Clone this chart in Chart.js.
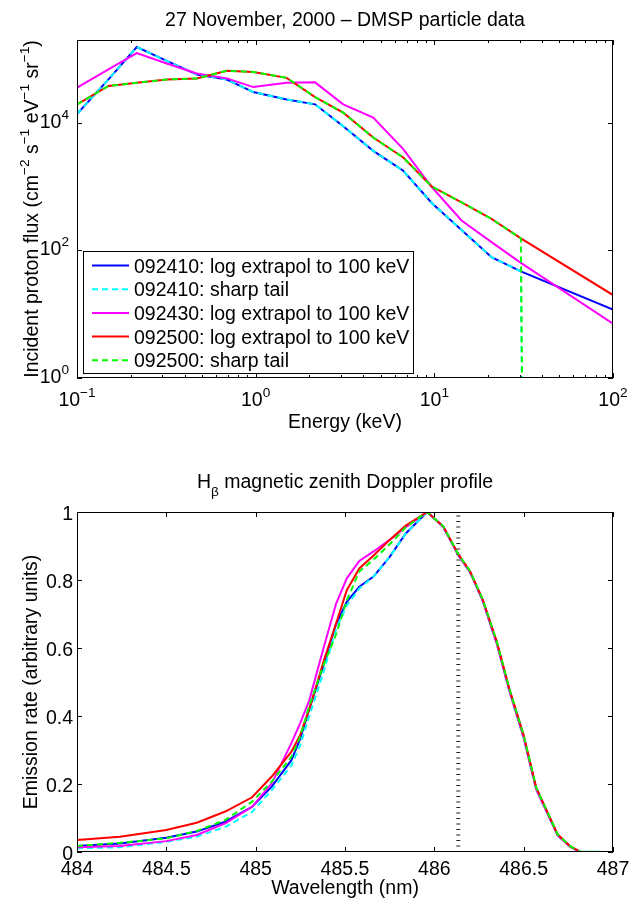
<!DOCTYPE html>
<html>
<head>
<meta charset="utf-8">
<title>DMSP particle data and H-beta Doppler profile</title>
<script src="https://cdn.jsdelivr.net/npm/chart.js@4.4.1/dist/chart.umd.min.js"></script>
<style>
  html, body { margin: 0; padding: 0; background: #fff; }
  canvas { display: block; }
</style>
</head>
<body>
<canvas id="fluxChart" width="641" height="440"></canvas>
<canvas id="dopplerChart" width="641" height="459"></canvas>
<script>
// ---- top panel: proton spectra (keV, cm-2 s-1 eV-1 sr-1) ----
const energyKeV  = [0.1, 0.15, 0.216, 0.318, 0.468, 0.69, 0.97, 1.49, 2.15, 3.09, 4.55, 6.7, 9.7, 14.2, 20.9, 30.5, 100];
const flux092410 = [13800, 48300, 155000, 94000, 57500, 48000, 30500, 23400, 19600, 8900, 3650, 1780, 550, 210, 78.6, 47, 11.8];
const flux092430 = [35700, 69000, 125000, 85500, 59500, 50000, 36500, 42600, 43300, 19600, 12100, 3880, 980, 295, 135, 64, 7.1];
const flux092500 = [19600, 38000, 42600, 48000, 50000, 66000, 63000, 51000, 25500, 14500, 5900, 2870, 1000, 570, 313, 155, 20];

// sharp tail: spectrum cut off right after the last channel
const tailEnergyKeV = [0.1, 0.15, 0.216, 0.318, 0.468, 0.69, 0.97, 1.49, 2.15, 3.09, 4.55, 6.7, 9.7, 14.2, 20.9, 30.5, 31.6];
const tail092410    = [13800, 48300, 155000, 94000, 57500, 48000, 30500, 23400, 19600, 8900, 3650, 1780, 550, 210, 78.6, 47, 0.001];
const tail092500    = [19600, 38000, 42600, 48000, 50000, 66000, 63000, 51000, 25500, 14500, 5900, 2870, 1000, 570, 313, 155, 0.001];

const seriesNames = [
  '092410: log extrapol to 100 keV',
  '092410: sharp tail',
  '092430: log extrapol to 100 keV',
  '092500: log extrapol to 100 keV',
  '092500: sharp tail'
];
const energyDecades = [0.1, 1, 10, 100];
const fluxTicks = [1, 100, 10000];

// ---- bottom panel: H-beta Doppler profile ----
const wavelengthNm = [484.0, 484.24, 484.5, 484.67, 484.83, 484.98, 485.09, 485.2, 485.25, 485.3,
                      485.38, 485.45, 485.51, 485.58, 485.66, 485.75, 485.84, 485.96, 486.05, 486.134,
                      486.2, 486.27, 486.35, 486.42, 486.5, 486.57, 486.69, 486.76, 486.815, 487.0];
const rate092410      = [0.018, 0.025, 0.042, 0.06, 0.089, 0.133, 0.192, 0.27, 0.334, 0.42,
                         0.55, 0.67, 0.736, 0.78, 0.81, 0.868, 0.937, 1.0, 0.957, 0.874,
                         0.824, 0.741, 0.614, 0.476, 0.339, 0.187, 0.05, 0.016, 0.001, 0];
const rateSharp092410 = [0.011, 0.014, 0.03, 0.045, 0.074, 0.118, 0.182, 0.255, 0.315, 0.40,
                         0.53, 0.655, 0.725, 0.775, 0.81, 0.868, 0.937, 1.0, 0.955, 0.872,
                         0.822, 0.739, 0.611, 0.472, 0.334, 0.183, 0.048, 0.015, 0.001, 0];
const rate092430      = [0.014, 0.018, 0.032, 0.05, 0.084, 0.133, 0.202, 0.32, 0.38, 0.446,
                         0.6, 0.73, 0.805, 0.856, 0.884, 0.918, 0.955, 1.0, 0.956, 0.873,
                         0.823, 0.740, 0.612, 0.474, 0.337, 0.185, 0.049, 0.016, 0.001, 0];
const rate092500      = [0.035, 0.045, 0.065, 0.086, 0.119, 0.161, 0.222, 0.295, 0.345, 0.42,
                         0.56, 0.672, 0.77, 0.834, 0.872, 0.918, 0.96, 1.0, 0.958, 0.876,
                         0.826, 0.744, 0.618, 0.480, 0.343, 0.190, 0.052, 0.017, 0.001, 0];
const rateSharp092500 = [0.018, 0.027, 0.04, 0.062, 0.094, 0.148, 0.207, 0.28, 0.34, 0.43,
                         0.55, 0.64, 0.74, 0.825, 0.86, 0.905, 0.955, 1.0, 0.958, 0.876,
                         0.826, 0.744, 0.618, 0.480, 0.343, 0.190, 0.052, 0.017, 0.001, 0];
const restWavelengthNm = 486.134;   // dotted marker
const wavelengthTicks = [484, 484.5, 485, 485.5, 486, 486.5, 487];
const rateTicks = [0, 0.2, 0.4, 0.6, 0.8, 1];

// ---- drawing helpers ----
const FONT = '"Liberation Sans", Arial, Helvetica, sans-serif';
const SIZE = 19.5;

function font(size) {
  return size + 'px ' + FONT;
}

// parts: [text, kind] with kind 0 normal, 1 superscript, -1 subscript
function richWidth(ctx, parts, size) {
  let w = 0;
  for (const [text, kind] of parts) {
    ctx.font = font(kind ? size * 0.7 : size);
    w += ctx.measureText(text).width;
  }
  return w;
}

function drawRich(ctx, parts, x, y, size, align) {
  const w = richWidth(ctx, parts, size);
  let cx = align === 'center' ? x - w / 2 : align === 'right' ? x - w : x;
  ctx.textAlign = 'left';
  ctx.textBaseline = 'alphabetic';
  for (const [text, kind] of parts) {
    ctx.font = font(kind ? size * 0.7 : size);
    const dy = kind === 1 ? -size * 0.48 : kind === -1 ? size * 0.4 : 0;
    ctx.fillText(text, cx, y + dy);
    cx += ctx.measureText(text).width;
  }
}

function logTicks(decades) {
  const ticks = [];
  for (let i = 0; i < decades.length - 1; i++) {
    for (let m = 1; m < 10; m++) ticks.push({ value: decades[i] * m, major: m === 1 });
  }
  ticks.push({ value: decades[decades.length - 1], major: true });
  return ticks;
}

function powerLabel(v) {
  const e = Math.round(Math.log10(v));
  return [['10', 0], [String(e).replace('-', '\u2212'), 1]];
}

function plainLabel(v) {
  return [[String(+v.toFixed(2)), 0]];
}

function lineSet(xs, ys, color, dashed, order) {
  return {
    data: xs.map((x, i) => ({ x: x, y: ys[i] })),
    borderColor: color,
    backgroundColor: color,
    borderWidth: 2,
    borderDash: dashed ? [6, 4] : [],
    pointRadius: 0,
    tension: 0,
    fill: false,
    order: order
  };
}

function drawLegend(chart) {
  const ctx = chart.ctx;
  const box = { x: 83.5, y: 251.5, w: 330, h: 122 };
  ctx.fillStyle = '#fff';
  ctx.fillRect(box.x, box.y, box.w, box.h);
  ctx.strokeStyle = '#000';
  ctx.lineWidth = 1;
  ctx.setLineDash([]);
  ctx.strokeRect(box.x, box.y, box.w, box.h);
  chart.data.datasets.forEach((ds, i) => {
    const y = 265.5 + i * 23.7;
    ctx.strokeStyle = ds.borderColor;
    ctx.lineWidth = 2;
    ctx.setLineDash(ds.borderDash);
    ctx.beginPath();
    ctx.moveTo(92, y);
    ctx.lineTo(129, y);
    ctx.stroke();
    ctx.setLineDash([]);
    ctx.fillStyle = '#000';
    drawRich(ctx, [[seriesNames[i], 0]], 134, y + 7, SIZE, 'left');
  });
}

// frame, inward ticks, tick labels, titles (MATLAB-like axes)
const decorPlugin = {
  id: 'decor',
  afterDraw(chart, args, o) {
    const ctx = chart.ctx;
    const a = chart.chartArea;
    const xs = chart.scales.x;
    const ys = chart.scales.y;
    ctx.save();
    ctx.setLineDash([]);
    ctx.strokeStyle = '#000';
    ctx.fillStyle = '#000';
    ctx.lineWidth = 1;

    ctx.beginPath();
    xs.ticks.forEach(t => {
      const p = Math.round(xs.getPixelForValue(t.value)) + 0.5;
      const len = t.major ? 5 : 3;
      ctx.moveTo(p, a.bottom); ctx.lineTo(p, a.bottom - len);
      ctx.moveTo(p, a.top); ctx.lineTo(p, a.top + len);
    });
    ys.ticks.forEach(t => {
      const p = Math.round(ys.getPixelForValue(t.value)) + 0.5;
      ctx.moveTo(a.left, p); ctx.lineTo(a.left + 5, p);
      ctx.moveTo(a.right, p); ctx.lineTo(a.right - 5, p);
    });
    ctx.stroke();
    ctx.strokeRect(a.left + 0.5, a.top + 0.5, a.right - a.left - 1, a.bottom - a.top - 1);

    xs.ticks.forEach(t => {
      if (!t.major) return;
      drawRich(ctx, o.tickLabel(t.value), xs.getPixelForValue(t.value), o.xTickY, SIZE, 'center');
    });
    ys.ticks.forEach(t => {
      drawRich(ctx, o.tickLabel(t.value), o.yTickX, ys.getPixelForValue(t.value) + o.yTickDy, SIZE, 'right');
    });

    const cx = (a.left + a.right) / 2;
    drawRich(ctx, o.title, cx, o.titleY, SIZE, 'center');
    drawRich(ctx, o.xTitle, cx, o.xTitleY, SIZE, 'center');
    ctx.save();
    ctx.translate(o.yTitleX, (a.top + a.bottom) / 2);
    ctx.rotate(-Math.PI / 2);
    drawRich(ctx, o.yTitle, 0, 0, SIZE, 'center');
    ctx.restore();

    if (o.legend) drawLegend(chart);
    ctx.restore();
  }
};

const baseOptions = {
  responsive: false,
  animation: false,
  events: []
};

// ---- top chart ----
new Chart(document.getElementById('fluxChart'), {
  type: 'line',
  data: {
    datasets: [
      lineSet(energyKeV, flux092410, '#0000ff', false, 5),
      lineSet(tailEnergyKeV, tail092410, '#00ffff', true, 4),
      lineSet(energyKeV, flux092430, '#ff00ff', false, 3),
      lineSet(energyKeV, flux092500, '#ff0000', false, 2),
      lineSet(tailEnergyKeV, tail092500, '#00ff00', true, 1)
    ]
  },
  options: {
    ...baseOptions,
    layout: { padding: { top: 40, right: 28, left: 0, bottom: 0 } },
    plugins: {
      legend: { display: false },
      tooltip: { enabled: false },
      decor: {
        tickLabel: powerLabel,
        xTickY: 406, yTickX: 69, yTickDy: 5,
        title: [['27 November, 2000 \u2013 DMSP particle data', 0]], titleY: 26,
        xTitle: [['Energy (keV)', 0]], xTitleY: 428,
        yTitle: [['Incident proton flux (cm', 0], ['\u22122', 1], [' s', 0], ['\u22121', 1],
                 [' eV', 0], ['\u22121', 1], [' sr', 0], ['\u22121', 1], [')', 0]],
        yTitleX: 38,
        legend: true
      }
    },
    scales: {
      x: {
        type: 'logarithmic', min: 0.1, max: 100,
        grid: { display: false }, border: { display: false }, ticks: { display: false },
        afterBuildTicks: s => { s.ticks = logTicks(energyDecades); },
        afterFit: s => { s.height = 62; }
      },
      y: {
        type: 'logarithmic', min: 1, max: 2e5,
        grid: { display: false }, border: { display: false }, ticks: { display: false },
        afterBuildTicks: s => { s.ticks = fluxTicks.map(v => ({ value: v, major: true })); },
        afterFit: s => { s.width = 77; }
      }
    }
  },
  plugins: [decorPlugin]
});

// ---- bottom chart ----
new Chart(document.getElementById('dopplerChart'), {
  type: 'line',
  data: {
    datasets: [
      {
        data: [{ x: restWavelengthNm, y: 0 }, { x: restWavelengthNm, y: 1 }],
        borderColor: '#222', borderWidth: 4, borderDash: [1, 4.5],
        pointRadius: 0, fill: false, order: 10
      },
      lineSet(wavelengthNm, rate092410, '#0000ff', false, 5),
      lineSet(wavelengthNm, rateSharp092410, '#00ffff', true, 4),
      lineSet(wavelengthNm, rate092430, '#ff00ff', false, 3),
      lineSet(wavelengthNm, rate092500, '#ff0000', false, 2),
      lineSet(wavelengthNm, rateSharp092500, '#00ff00', true, 1)
    ]
  },
  options: {
    ...baseOptions,
    layout: { padding: { top: 72, right: 28, left: 0, bottom: 0 } },
    plugins: {
      legend: { display: false },
      tooltip: { enabled: false },
      decor: {
        tickLabel: plainLabel,
        xTickY: 435, yTickX: 73, yTickDy: 8,
        title: [['H', 0], ['\u03b2', -1], [' magnetic zenith Doppler profile', 0]], titleY: 48,
        xTitle: [['Wavelength (nm)', 0]], xTitleY: 454,
        yTitle: [['Emission rate (arbitrary units)', 0]],
        yTitleX: 37,
        legend: false
      }
    },
    scales: {
      x: {
        type: 'linear', min: 484, max: 487,
        grid: { display: false }, border: { display: false }, ticks: { display: false },
        afterBuildTicks: s => { s.ticks = wavelengthTicks.map(v => ({ value: v, major: true })); },
        afterFit: s => { s.height = 47; }
      },
      y: {
        type: 'linear', min: 0, max: 1,
        grid: { display: false }, border: { display: false }, ticks: { display: false },
        afterBuildTicks: s => { s.ticks = rateTicks.map(v => ({ value: v, major: true })); },
        afterFit: s => { s.width = 77; }
      }
    }
  },
  plugins: [decorPlugin]
});
</script>
</body>
</html>
